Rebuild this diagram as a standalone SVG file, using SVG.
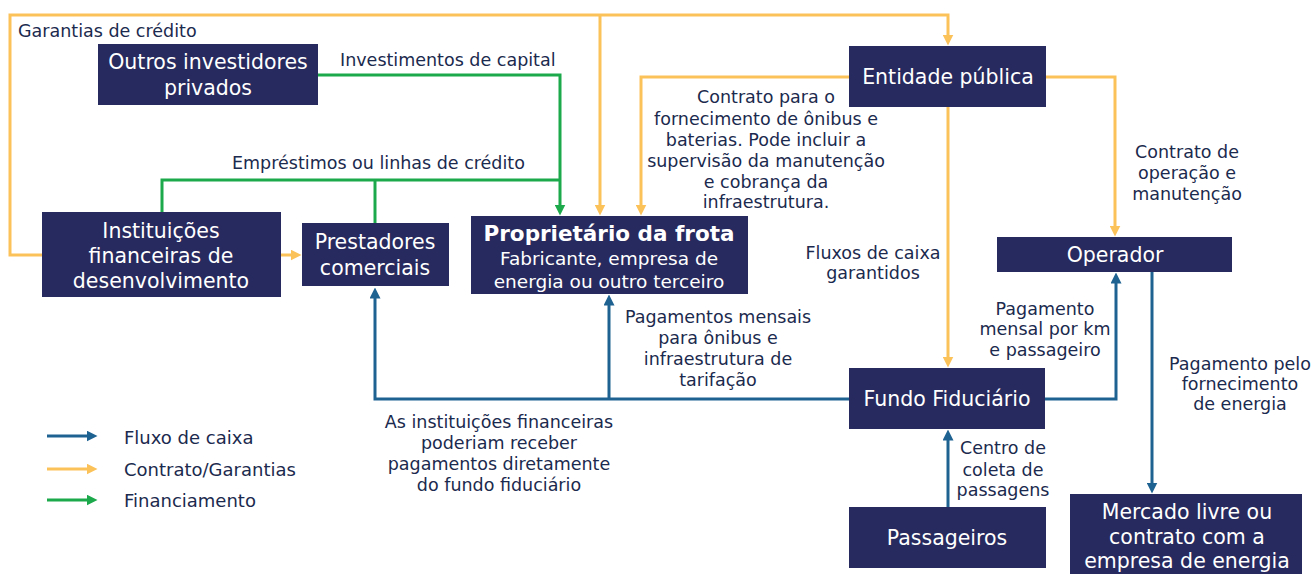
<svg xmlns="http://www.w3.org/2000/svg" width="1314" height="574" viewBox="0 0 1314 574">
<style>
.box{fill:#272A5E}
.nt{font-family:"DejaVu Sans",sans-serif;font-size:20.5px;fill:#fff;text-anchor:middle}
.ntb{font-family:"DejaVu Sans",sans-serif;font-size:21.5px;font-weight:bold;fill:#fff;text-anchor:middle}
.nts{font-family:"DejaVu Sans",sans-serif;font-size:18.5px;fill:#fff;text-anchor:middle}
.lb{font-family:"DejaVu Sans",sans-serif;font-size:17.5px;fill:#1B2A4E;text-anchor:middle}
.lbl{font-family:"DejaVu Sans",sans-serif;font-size:17.5px;fill:#1B2A4E}
.lg{font-family:"DejaVu Sans",sans-serif;font-size:18px;fill:#1B2A4E}
.o{fill:none;stroke:#FBC25A;stroke-width:3}
.g{fill:none;stroke:#1CA94C;stroke-width:3}
.b{fill:none;stroke:#1E6291;stroke-width:3}
.o.a{marker-end:url(#mo)}
.g.a{marker-end:url(#mg)}
.b.a{marker-end:url(#mb)}
</style>
<defs>
<marker id="mo" viewBox="0 0 10 10" refX="5" refY="5" markerWidth="11" markerHeight="11" markerUnits="userSpaceOnUse" orient="auto"><path d="M0,0 L10,5 L0,10 z" fill="#FBC25A"/></marker>
<marker id="mg" viewBox="0 0 10 10" refX="5" refY="5" markerWidth="11" markerHeight="11" markerUnits="userSpaceOnUse" orient="auto"><path d="M0,0 L10,5 L0,10 z" fill="#1CA94C"/></marker>
<marker id="mb" viewBox="0 0 10 10" refX="5" refY="5" markerWidth="11" markerHeight="11" markerUnits="userSpaceOnUse" orient="auto"><path d="M0,0 L10,5 L0,10 z" fill="#1E6291"/></marker>
</defs>
<rect width="1314" height="574" fill="#fff"/>
<g id="connectors">
<path class="o a" d="M42,255 H10 V15 H948 V40"/>
<path class="o a" d="M600,15 V210"/>
<path class="o a" d="M849,77 H641 V210"/>
<path class="o a" d="M1046,77 H1115 V231"/>
<path class="o a" d="M948,107 V362"/>
<path class="o a" d="M281,255 H296"/>
<path class="g a" d="M318,75 H560 V210"/>
<path class="g" d="M162,212 V180 H560"/>
<path class="g" d="M375,223 V180"/>
<path class="b a" d="M849,399 H375 V293"/>
<path class="b a" d="M609,399 V300"/>
<path class="b a" d="M1045,399 H1116 V278"/>
<path class="b a" d="M1152,272 V488"/>
<path class="b a" d="M948,507 V435"/>
</g>
<g id="labels">
<text class="lbl" x="18" y="37">Garantias de crédito</text>
<text class="lbl" x="340" y="66">Investimentos de capital</text>
<text class="lbl" x="232" y="169">Empréstimos ou linhas de crédito</text>
<text class="lb" x="766" y="103">Contrato para o</text>
<text class="lb" x="766" y="125">fornecimento de ônibus e</text>
<text class="lb" x="766" y="146">baterias. Pode incluir a</text>
<text class="lb" x="766" y="167">supervisão da manutenção</text>
<text class="lb" x="766" y="188">e cobrança da</text>
<text class="lb" x="766" y="208">infraestrutura.</text>
<text class="lb" x="1187" y="158">Contrato de</text>
<text class="lb" x="1187" y="179">operação e</text>
<text class="lb" x="1187" y="200">manutenção</text>
<text class="lb" x="873" y="259">Fluxos de caixa</text>
<text class="lb" x="873" y="279">garantidos</text>
<text class="lb" x="1045" y="315">Pagamento</text>
<text class="lb" x="1045" y="335">mensal por km</text>
<text class="lb" x="1045" y="356">e passageiro</text>
<text class="lb" x="718" y="323">Pagamentos mensais</text>
<text class="lb" x="718" y="344">para ônibus e</text>
<text class="lb" x="718" y="365">infraestrutura de</text>
<text class="lb" x="718" y="386">tarifação</text>
<text class="lb" x="1240" y="370">Pagamento pelo</text>
<text class="lb" x="1240" y="390">fornecimento</text>
<text class="lb" x="1240" y="410">de energia</text>
<text class="lb" x="499" y="428">As instituições financeiras</text>
<text class="lb" x="499" y="449">poderiam receber</text>
<text class="lb" x="499" y="470">pagamentos diretamente</text>
<text class="lb" x="499" y="491">do fundo fiduciário</text>
<text class="lb" x="1003" y="454">Centro de</text>
<text class="lb" x="1003" y="476">coleta de</text>
<text class="lb" x="1003" y="496">passagens</text>
</g>
<g id="legend">
<path class="b a" d="M47,436 H92"/>
<path class="o a" d="M47,469 H92"/>
<path class="g a" d="M47,500 H92"/>
<text class="lg" x="124" y="444">Fluxo de caixa</text>
<text class="lg" x="124" y="476">Contrato/Garantias</text>
<text class="lg" x="124" y="507">Financiamento</text>
</g>
<g id="outros">
<rect class="box" x="98" y="44" width="220" height="61"/>
<text class="nt" x="208" y="69">Outros investidores</text>
<text class="nt" x="208" y="95">privados</text>
</g>
<g id="instituicoes">
<rect class="box" x="42" y="212" width="239" height="85"/>
<text class="nt" x="161" y="238">Instituições</text>
<text class="nt" x="161" y="263">financeiras de</text>
<text class="nt" x="161" y="288">desenvolvimento</text>
</g>
<g id="prestadores">
<rect class="box" x="302" y="223" width="147" height="63"/>
<text class="nt" x="375" y="249">Prestadores</text>
<text class="nt" x="375" y="275">comerciais</text>
</g>
<g id="proprietario">
<rect class="box" x="471" y="216" width="277" height="78"/>
<text class="ntb" x="609" y="241">Proprietário da frota</text>
<text class="nts" x="609" y="265">Fabricante, empresa de</text>
<text class="nts" x="609" y="288">energia ou outro terceiro</text>
</g>
<g id="entidade">
<rect class="box" x="849" y="46" width="197" height="61"/>
<text class="nt" x="948" y="84">Entidade pública</text>
</g>
<g id="operador">
<rect class="box" x="997" y="237" width="235" height="35"/>
<text class="nt" x="1115" y="262">Operador</text>
</g>
<g id="fundo">
<rect class="box" x="849" y="368" width="196" height="61"/>
<text class="nt" x="947" y="406">Fundo Fiduciário</text>
</g>
<g id="passageiros">
<rect class="box" x="849" y="507" width="197" height="61"/>
<text class="nt" x="947" y="545">Passageiros</text>
</g>
<g id="mercado">
<rect class="box" x="1070" y="494" width="232" height="80"/>
<text class="nt" x="1187" y="519">Mercado livre ou</text>
<text class="nt" x="1187" y="544">contrato com a</text>
<text class="nt" x="1187" y="568">empresa de energia</text>
</g>
</svg>
